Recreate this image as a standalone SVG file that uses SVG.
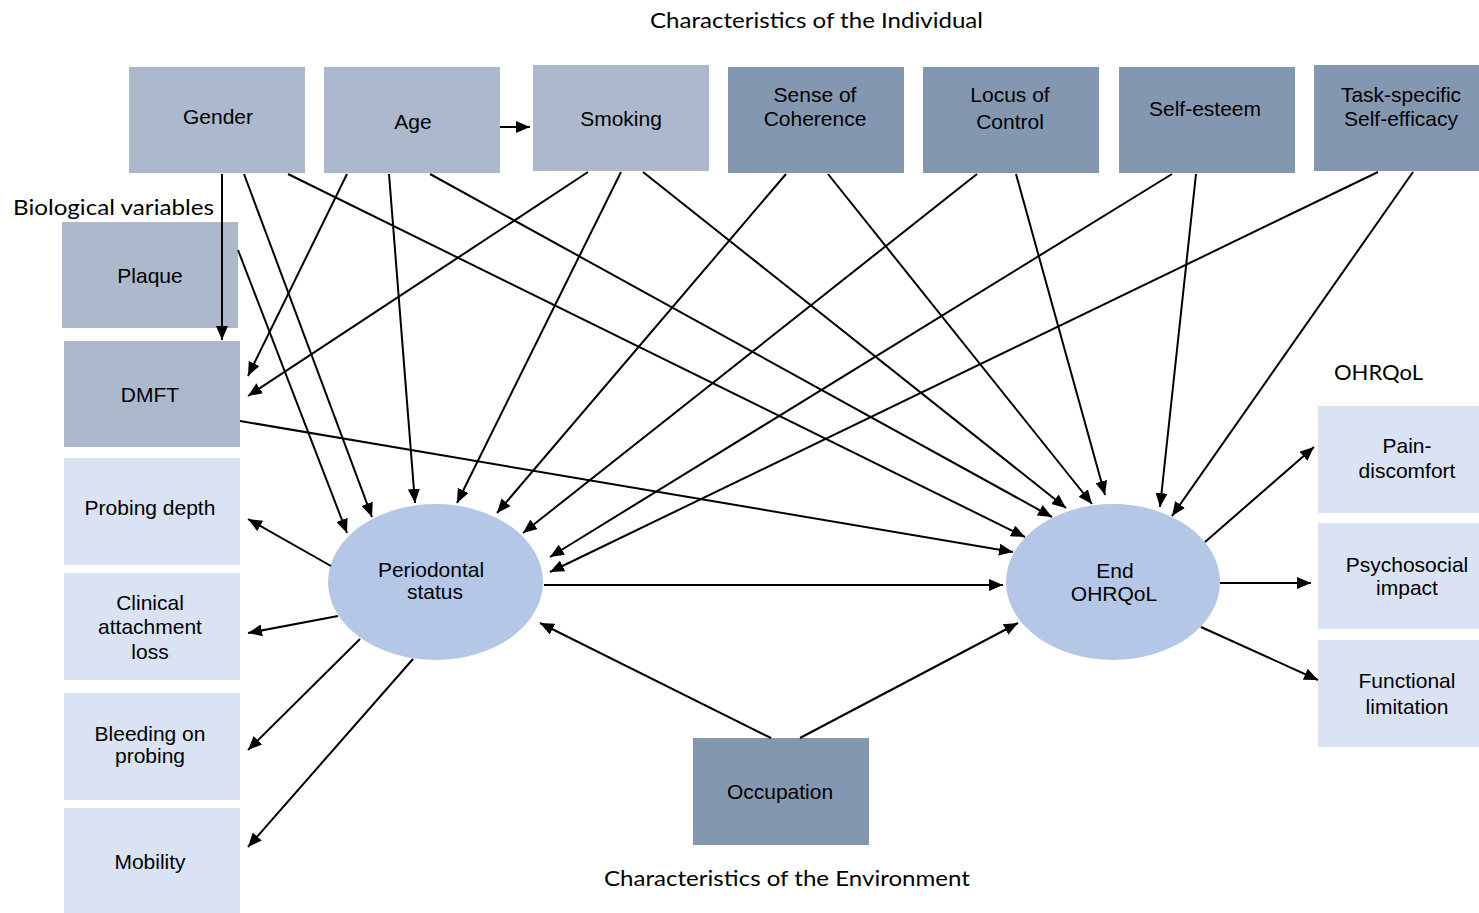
<svg xmlns="http://www.w3.org/2000/svg" width="1479" height="913" viewBox="0 0 1479 913">
<style>
.n1{fill:#ACB8CB}
.n2{fill:#8497B0}
.n3{fill:#DAE3F3}
.el{fill:#B4C7E7}
.t{font-family:"Liberation Sans",Arial,sans-serif;font-size:21px;fill:#000;text-anchor:middle}
.h{font-family:Lato,"Liberation Sans",sans-serif;font-size:22px;fill:#000}
#edges line{stroke:#000;stroke-width:2;marker-end:url(#ah)}
</style>
<defs>
<marker id="ah" markerUnits="userSpaceOnUse" markerWidth="15" markerHeight="12" refX="14" refY="6" orient="auto">
<path d="M0,0 L14,6 L0,12 z" fill="#000"/>
</marker>
</defs>
<rect width="1479" height="913" fill="#fff"/>
<text class="h" x="650" y="28" textLength="333" lengthAdjust="spacingAndGlyphs">Characteristics of the Individual</text>
<text class="h" x="13" y="215" textLength="201" lengthAdjust="spacingAndGlyphs">Biological variables</text>
<text class="h" x="1334" y="380" textLength="89" lengthAdjust="spacingAndGlyphs">OHRQoL</text>
<text class="h" x="604" y="886" textLength="366" lengthAdjust="spacingAndGlyphs">Characteristics of the Environment</text>

<g id="gender"><rect class="n1" x="129" y="67" width="176" height="106"/><text class="t" x="218" y="124">Gender</text></g>
<g id="age"><rect class="n1" x="324" y="67" width="176" height="106"/><text class="t" x="413" y="129">Age</text></g>
<g id="smoking"><rect class="n1" x="533" y="65" width="176" height="106"/><text class="t" x="621" y="126">Smoking</text></g>
<g id="soc"><rect class="n2" x="728" y="67" width="176" height="106"/><text class="t" x="815" y="102">Sense of</text><text class="t" x="815" y="126">Coherence</text></g>
<g id="loc"><rect class="n2" x="923" y="67" width="176" height="106"/><text class="t" x="1010" y="102">Locus of</text><text class="t" x="1010" y="129">Control</text></g>
<g id="selfesteem"><rect class="n2" x="1119" y="67" width="176" height="106"/><text class="t" x="1205" y="116">Self-esteem</text></g>
<g id="selfefficacy"><rect class="n2" x="1314" y="65" width="165" height="106"/><text class="t" x="1401" y="102">Task-specific</text><text class="t" x="1401" y="126">Self-efficacy</text></g>

<g id="plaque"><rect class="n1" x="62" y="222" width="176" height="106"/><text class="t" x="150" y="283">Plaque</text></g>
<g id="dmft"><rect class="n1" x="64" y="341" width="176" height="106"/><text class="t" x="150" y="402">DMFT</text></g>
<g id="probing"><rect class="n3" x="64" y="458" width="176" height="107"/><text class="t" x="150" y="515">Probing depth</text></g>
<g id="cal"><rect class="n3" x="64" y="573" width="176" height="107"/><text class="t" x="150" y="610">Clinical</text><text class="t" x="150" y="634">attachment</text><text class="t" x="150" y="659">loss</text></g>
<g id="bop"><rect class="n3" x="64" y="693" width="176" height="107"/><text class="t" x="150" y="741">Bleeding on</text><text class="t" x="150" y="763">probing</text></g>
<g id="mobility"><rect class="n3" x="64" y="808" width="176" height="105"/><text class="t" x="150" y="869">Mobility</text></g>

<g id="periodontal"><ellipse class="el" cx="435.5" cy="582" rx="107.5" ry="78"/><text class="t" x="431" y="577">Periodontal</text><text class="t" x="435" y="599">status</text></g>
<g id="end"><ellipse class="el" cx="1113" cy="582" rx="107" ry="78"/><text class="t" x="1115" y="578">End</text><text class="t" x="1114" y="601">OHRQoL</text></g>

<g id="pain"><rect class="n3" x="1318" y="406" width="161" height="107"/><text class="t" x="1407" y="453">Pain-</text><text class="t" x="1407" y="478">discomfort</text></g>
<g id="psycho"><rect class="n3" x="1318" y="523" width="161" height="106"/><text class="t" x="1407" y="572">Psychosocial</text><text class="t" x="1407" y="595">impact</text></g>
<g id="functional"><rect class="n3" x="1318" y="640" width="161" height="107"/><text class="t" x="1407" y="688">Functional</text><text class="t" x="1407" y="714">limitation</text></g>

<g id="occupation"><rect class="n2" x="693" y="738" width="176" height="107"/><text class="t" x="780" y="799">Occupation</text></g>

<g id="edges">
<line x1="500" y1="127" x2="530" y2="127"/>
<line x1="222" y1="174" x2="222" y2="340"/>
<line x1="244" y1="174" x2="372" y2="517"/>
<line x1="288" y1="174" x2="1025" y2="537"/>
<line x1="347" y1="174" x2="248" y2="376"/>
<line x1="389" y1="174" x2="415" y2="503"/>
<line x1="430" y1="174" x2="1052" y2="517"/>
<line x1="588" y1="172" x2="248" y2="396"/>
<line x1="621" y1="172" x2="457" y2="503"/>
<line x1="643" y1="172" x2="1066" y2="508"/>
<line x1="786" y1="174" x2="497" y2="513"/>
<line x1="828" y1="174" x2="1092" y2="504"/>
<line x1="977" y1="174" x2="523" y2="533"/>
<line x1="1016" y1="174" x2="1105" y2="495"/>
<line x1="1172" y1="174" x2="550" y2="557"/>
<line x1="1196" y1="174" x2="1160" y2="507"/>
<line x1="1378" y1="172" x2="550" y2="572"/>
<line x1="1413" y1="172" x2="1172" y2="516"/>
<line x1="238" y1="250" x2="347" y2="533"/>
<line x1="240" y1="421" x2="1013" y2="552"/>
<line x1="544" y1="585" x2="1003" y2="585"/>
<line x1="771" y1="738" x2="540" y2="623"/>
<line x1="800" y1="738" x2="1018" y2="623"/>
<line x1="331" y1="566" x2="248" y2="519"/>
<line x1="338" y1="616" x2="248" y2="633"/>
<line x1="360" y1="639" x2="248" y2="750"/>
<line x1="413" y1="659" x2="248" y2="847"/>
<line x1="1205" y1="542" x2="1314" y2="447"/>
<line x1="1220" y1="583" x2="1311" y2="583"/>
<line x1="1201" y1="627" x2="1318" y2="680"/>
</g>
</svg>
